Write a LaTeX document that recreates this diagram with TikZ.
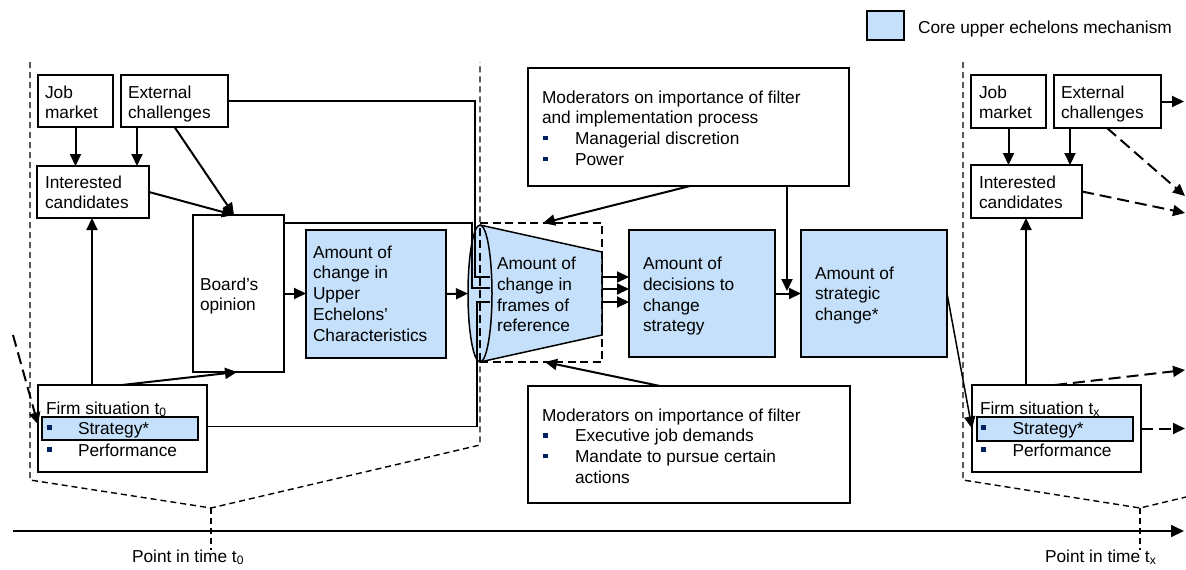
\documentclass[tikz,border=0pt]{standalone}
\usepackage{fontspec}
\setmainfont{Liberation Sans}
\usetikzlibrary{arrows.meta}
\definecolor{coreblue}{RGB}{197,224,250}
\definecolor{navy}{RGB}{0,32,96}
\newcommand\fs{\fontsize{17.3}{20.8}\selectfont}
\newcommand\bsq{\textcolor{navy}{\rule[4.3pt]{4.6pt}{4.6pt}}}
\newcommand\blt[1]{\makebox[#1pt][l]{\hspace*{1.3pt}\bsq}}
\begin{document}
\begin{tikzpicture}[x=1pt,y=-1pt,
  box/.style={draw, line width=1.5pt, fill=white, inner sep=0pt, outer sep=0pt},
  core/.style={box, fill=coreblue},
  txt/.style={inner sep=0pt, outer sep=0pt, anchor=north west, align=left, font=\fs, yshift=14.49pt},
  arr/.style={line width=2pt, -{Triangle[length=12pt,width=11pt]}},
  ln/.style={line width=1.5pt},
  darr/.style={line width=2pt, dash pattern=on 12pt off 6pt, -{Triangle[length=12pt,width=11pt]}},
  bnd/.style={line width=1.4pt, dash pattern=on 6pt off 4pt},
]
\useasboundingbox (0,0) rectangle (1186,570);

% time periods (dashed outlines)
\draw[bnd] (30,62) -- (30,480) -- (211,508) -- (480,445) -- (480,62);
\draw[bnd] (211,508) -- (211,550);
\draw[bnd] (963,62) -- (963,480) -- (1140,508) -- (1186,497);
\draw[bnd] (1140,508) -- (1140,550);

% time axis
\coordinate (axL) at (13,531);
\coordinate (axR) at (1184,531);
\draw[line width=1.7pt, -{Triangle[length=13pt,width=12pt]}] (axL) -- (axR);
\node[txt] (t0lab) at (132,562) {\strut Point in time t\textsubscript{0}};
\node[txt] (txlab) at (1045,562) {\strut Point in time t\textsubscript{x}};

% legend
\node[core, minimum width=37, minimum height=29] (leg) at (885.5,25.5) {};
\node[txt] (leg-t) at (918,33) {\strut Core upper echelons mechanism};

% left period boxes
\node[box, minimum width=75, minimum height=52] (jmL) at (75.5,101) {};
\node[box, minimum width=107, minimum height=52] (ecL) at (174.5,101) {};
\node[box, minimum width=112, minimum height=52] (icL) at (93,192) {};
\node[box, minimum width=91, minimum height=157] (board) at (238.5,293.5) {};
\node[core, minimum width=140, minimum height=128] (ue) at (376,294) {};
\node[box, minimum width=169, minimum height=87] (firmL) at (122.5,428.5) {};
\node[core, minimum width=156, minimum height=23] (stratL) at (120,428.5) {};

\node[txt] (jmL-t) at (45,98) {\strut Job\\market};
\node[txt] (ecL-t) at (128,98) {\strut External\\challenges};
\node[txt] (icL-t) at (45,188) {\strut Interested\\candidates};
\node[txt] (board-t) at (200,290) {\strut Board’s\\opinion};
\node[txt] (ue-t) at (313,258) {\strut Amount of\\change in\\Upper\\Echelons’\\Characteristics};
\node[txt] (firmL-t) at (46,414) {\strut Firm situation t\textsubscript{0}\\[-0.8pt]\blt{32}Strategy*\\[1.2pt]\blt{32}Performance};

% middle boxes
\node[core, minimum width=146, minimum height=127] (dec) at (702,293.5) {};
\node[core, minimum width=146, minimum height=127] (strat) at (874,293.5) {};
\node[box, minimum width=321, minimum height=118] (modT) at (688.5,127) {};
\node[box, minimum width=322, minimum height=117] (modB) at (689,444.5) {};

\node[txt] (dec-t) at (643,269.5) {\strut Amount of\\decisions to\\change\\strategy};
\node[txt] (strat-t) at (815,279) {\strut Amount of\\strategic\\change*};
\node[txt] (modT-t) at (542,103) {\strut Moderators on importance of filter\\and implementation process\\\blt{33}Managerial discretion\\\blt{33}Power};
\node[txt] (modB-t) at (542,421) {\strut Moderators on importance of filter\\\blt{33}Executive job demands\\\blt{33}Mandate to pursue certain\\\hspace*{33pt}actions};

% right period boxes
\node[box, minimum width=75, minimum height=53] (jmR) at (1008.5,101.5) {};
\node[box, minimum width=107, minimum height=53] (ecR) at (1107.5,101.5) {};
\node[box, minimum width=111, minimum height=53] (icR) at (1026.5,191.5) {};
\node[box, minimum width=169, minimum height=87] (firmR) at (1056.5,428.5) {};
\node[core, minimum width=156, minimum height=24] (stratR) at (1055,429) {};

\node[txt] (jmR-t) at (979,98) {\strut Job\\market};
\node[txt] (ecR-t) at (1061,98) {\strut External\\challenges};
\node[txt] (icR-t) at (979,188) {\strut Interested\\candidates};
\node[txt] (firmR-t) at (980,414) {\strut Firm situation t\textsubscript{x}\\[-0.8pt]\blt{32.5}Strategy*\\[1.2pt]\blt{32.5}Performance};

% funnel (filter)
\fill[coreblue] (480,225) -- (602,252) -- (602,335) -- (480,362) -- cycle;
\fill[coreblue] (480,293.5) ellipse [x radius=12pt, y radius=68.5pt];
\node[draw, line width=1.5pt, dash pattern=on 8pt off 4.5pt, minimum width=122, minimum height=139, inner sep=0pt, outer sep=0pt] (filter) at (541,292.5) {};
\coordinate (funL) at (468,293.5);
\coordinate (in1) at (490,277);
\coordinate (in2) at (490,288);
\coordinate (in3) at (490,302);

% lines entering the funnel
\draw[ln] (ecL.east) -| (475,277) -- (in1);
\draw[ln] ([yshift=-8]board.north east) -| (472,288) -- (in2);
\draw[ln] ([yshift=2]firmL.east) -| (477,302) -- (in3);

\draw[ln] (480,225) -- (602,252) -- (602,335) -- (480,362);
\draw[ln] (480,293.5) ellipse [x radius=12pt, y radius=68.5pt];
\node[txt] (fr-t) at (497,269.5) {\strut Amount of\\change in\\frames of\\reference};

% left connectors
\draw[arr] (jmL.south) -- (jmL.south |- icL.north);
\draw[arr] ([xshift=-37.5]ecL.south) -- ([xshift=-37.5]ecL.south |- icL.north);
\draw[arr] (ecL.south) -- ([xshift=-4.5]board.north);
\draw[arr] (icL.east) -- ([xshift=-4.5]board.north);
\draw[arr] ([xshift=-30.5]firmL.north) -- ([xshift=-30.5]firmL.north |- icL.south);
\draw[arr] ([xshift=-0.5]firmL.north) -- ([xshift=-1.5]board.south);
\coordinate (lin) at (13,335);
\draw[darr] (lin) -- ([yshift=4]firmL.west);
\draw[arr] (board.east) -- (board.east -| ue.west);
\draw[arr] (ue.east) -- (funL);

% middle connectors
\draw[arr] ([yshift=15.5]filter.east) -- ([yshift=15.5]filter.east -| dec.west);
\draw[arr] ([yshift=3.5]filter.east) -- ([yshift=3.5]filter.east -| dec.west);
\draw[arr] ([yshift=-9.5]filter.east) -- ([yshift=-9.5]filter.east -| dec.west);
\draw[arr] (dec.east) -- (dec.east -| strat.west);
\coordinate (mj) at (787,291);
\draw[arr] ([xshift=98.5]modT.south) -- (mj);
\draw[arr] ([xshift=1.5]modT.south) -- ([xshift=2]filter.north);
\draw[arr] ([xshift=-29]modB.north) -- ([xshift=4]filter.south);
\draw[line width=1.5pt, -{Triangle[length=12pt,width=11pt]}] (strat.east) -- (firmR.west);

% right connectors
\coordinate (r1) at (1184,101.5);
\coordinate (r2) at (1185,196);
\coordinate (r3) at (1185,213);
\coordinate (r4) at (1185,370);
\coordinate (r5) at (1185,428.5);
\draw[arr] (jmR.south) -- (jmR.south |- icR.north);
\draw[arr] ([xshift=-37.5]ecR.south) -- ([xshift=-37.5]ecR.south |- icR.north);
\draw[arr] (ecR.east) -- (r1);
\draw[darr] ([xshift=-0.5]ecR.south) -- (r2);
\draw[darr] (icR.east) -- (r3);
\draw[arr] ([xshift=-30.5]firmR.north) -- ([xshift=-30.5]firmR.north |- icR.south);
\draw[darr] ([xshift=-1.5]firmR.north) -- (r4);
\draw[darr] (firmR.east) -- (r5);
\end{tikzpicture}
\end{document}
